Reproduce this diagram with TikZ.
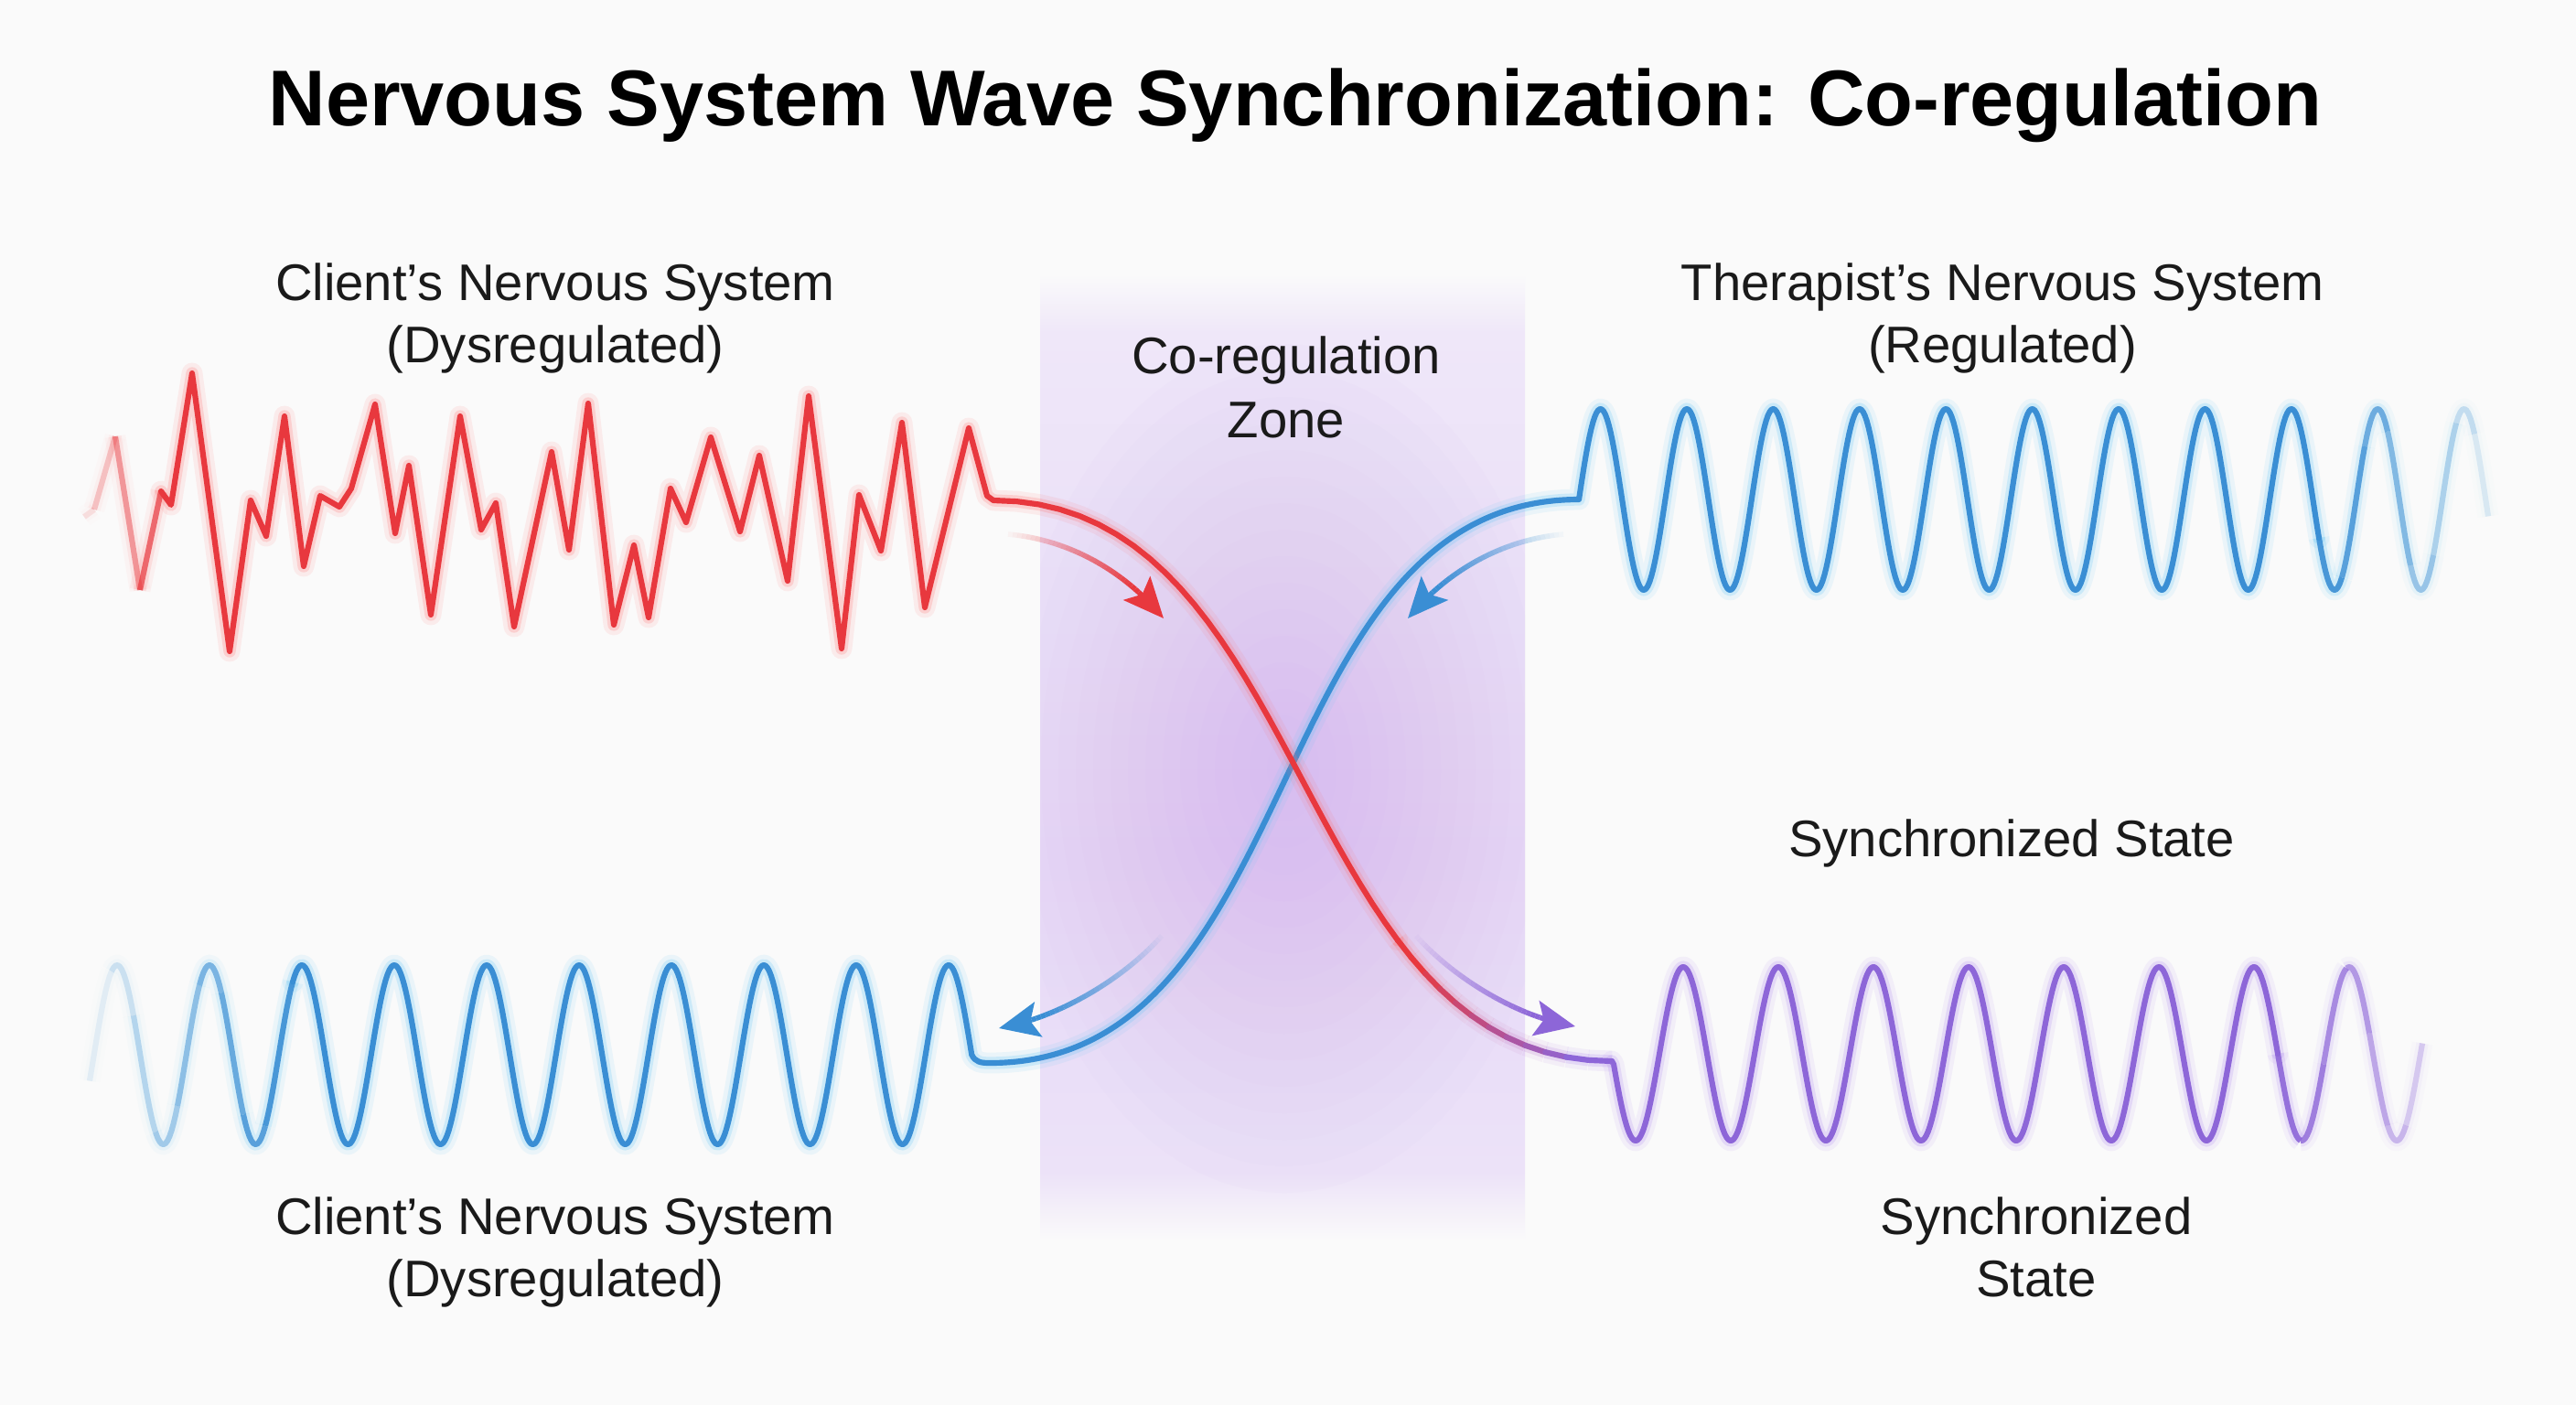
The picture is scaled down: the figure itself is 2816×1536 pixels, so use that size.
\documentclass[tikz,border=0pt]{standalone}
\usepackage{fontspec}
\setmainfont{Liberation Sans}
\usetikzlibrary{calc,arrows.meta}
\definecolor{bgc}{HTML}{FAFAFA}
\definecolor{textc}{HTML}{1A1A1A}
\definecolor{zonea}{HTML}{E6D8F7}
\definecolor{zoneb}{HTML}{ECE2F8}
\definecolor{zonec}{HTML}{EFE7F9}
\definecolor{zglow}{HTML}{C8A2F0}
\definecolor{sred}{HTML}{E8383E}
\definecolor{redglow}{HTML}{FF6E6E}
\definecolor{sblue}{HTML}{3A8ED4}
\definecolor{blueglow}{HTML}{5EC4F5}
\definecolor{spurple}{HTML}{8D66D8}
\definecolor{purpglow}{HTML}{B08BF0}
% TikZ maps the path onto 25bp..75bp of an axis shading
\pgfdeclareverticalshading{zoneshade}{100bp}{color(0bp)=(bgc); color(25bp)=(bgc); color(28.5bp)=(zoneb); color(45bp)=(zonea); color(62.5bp)=(zoneb); color(72bp)=(zonec); color(75bp)=(bgc); color(100bp)=(bgc)}

% points of a cubic Bezier curve by de Casteljau, 41 named coordinates
\newcommand\bezpts[5]{%
 \foreach \ii in {0,...,40}{%
  \pgfmathsetmacro\bz{\ii/40}%
  \coordinate (#1qa) at ($(#2)!\bz!(#3)$);
  \coordinate (#1qb) at ($(#3)!\bz!(#4)$);
  \coordinate (#1qc) at ($(#4)!\bz!(#5)$);
  \coordinate (#1ra) at ($(#1qa)!\bz!(#1qb)$);
  \coordinate (#1rb) at ($(#1qb)!\bz!(#1qc)$);
  \coordinate (#1\ii) at ($(#1ra)!\bz!(#1rb)$);
 }}

% faded pieces of a sine wave: #1 function, #2 colour, #3 glow colour, #4 list from/to/opacity
\newcommand\fadewave[4]{%
 \foreach \wa/\wb/\wo in {#4}{%
  \pgfmathsetmacro\oga{0.10*\wo}%
  \pgfmathsetmacro\ogb{0.22*\wo}%
  \pgfmathtruncatemacro\ns{max(4,(\wb-\wa)/2)}%
  \draw[glowA, draw=#3, opacity=\oga, line cap=butt] plot[domain=\wa:\wb, samples=\ns] (\x,{#1(\x)});
  \draw[glowB, draw=#3, opacity=\ogb, line cap=butt] plot[domain=\wa:\wb, samples=\ns] (\x,{#1(\x)});
  \draw[core, draw=#2, opacity=\wo, line cap=butt] plot[domain=\wa:\wb, samples=\ns] (\x,{#1(\x)});
 }}

% arrow with fading tail: #1 prefix of points, #2 colour
\newcommand\fadearrow[2]{%
 \foreach \ii in {0,...,36}{%
  \pgfmathtruncatemacro\jj{\ii+1}%
  \pgfmathsetmacro\op{min(1,0.04+1.15*\ii/36)}%
  \draw[arrline, draw=#2, opacity=\op] (#1\ii) -- (#1\jj);
 }
 \draw[arrline, draw=#2, fill=#2, -{Stealth[length=12.5pt,width=11pt,inset=2.5pt]}] (#136) -- (#140);
}

\newcommand\bluemain[1]{%
 \draw[#1] plot[domain=320:1062.25,samples=380] (\x,{cliw(\x)})
   .. controls (1066,1161) and (1072,1162) .. (1082,1162)
   .. controls (1432,1162) and (1376,546) .. (1726,546)
   -- plot[domain=1726:2535,samples=420] (\x,{regw(\x)});}

\newcommand\redmain[1]{%
 \draw[#1] (176,537) -- (187,552) -- (210,408) -- (251,712) -- (274,547) -- (291,586) -- (311,455)
   -- (332,619) -- (350,542) -- (371,554) -- (384,534) -- (410,442) -- (432,583) -- (447,509)
   -- (471,672) -- (503,455) -- (526,579) -- (542,550) -- (562,685) -- (603,494) -- (622,601)
   -- (643,441) -- (671,683) -- (693,596) -- (709,675) -- (733,534) -- (750,571) -- (777,478)
   -- (809,581) -- (830,498) -- (861,635) -- (884,433) -- (920,709) -- (939,541) -- (963,602)
   -- (986,462) -- (1011,664) -- (1059,468) -- (1079,542) -- (RS0)
   \foreach \ii in {1,...,28}{ -- (RS\ii)};}

\newcommand\purplemain[1]{%
 \draw[#1] (RS40) -- plot[domain=1764:2490,samples=360] (\x,{synw(\x)});}

\begin{document}
\begin{tikzpicture}[x=0.01cm,y=-0.01cm,
  declare function={
    regw(\x)=546-99*sin((\x-1726)/94.4*360);
    cliw(\x)=1153-98*sin((\x-102.75)/101*360);
    synw(\x)=1152+95*sin((\x-1762)/104*360);
  },
  lbl/.style={font=\fontsize{16}{19}\selectfont, text=textc, anchor=base, inner sep=0pt},
  titlestyle/.style={font=\fontsize{24.6}{29}\selectfont\bfseries, text=black, anchor=base, inner sep=0pt},
  glowA/.style={line width=6.5pt, opacity=0.10, line join=round, line cap=round},
  glowB/.style={line width=3.8pt, opacity=0.22, line join=round, line cap=round},
  core/.style={line width=1.75pt, line join=round, line cap=round},
  arrline/.style={line width=1.6pt, line cap=butt, line join=round}]

\fill[bgc] (0,0) rectangle (2816,1536);
\useasboundingbox (0,0) rectangle (2816,1536);

% ---- co-regulation zone
\begin{scope}
  \clip (1137,300) rectangle (1667,1355);
  \shade[shading=zoneshade] (1137,300) rectangle (1667,1355);
  \foreach \r in {1,...,16}{\fill[zglow, opacity=0.032] (1404,840) ellipse ({19*\r} and {29*\r});}
\end{scope}

% ---- curve points
\coordinate (rs0) at (1086,547);
\coordinate (rs1) at (1436,547);
\coordinate (rs2) at (1412,1160);
\coordinate (rs3) at (1762,1160);
\bezpts{RS}{rs0}{rs1}{rs2}{rs3}

\coordinate (a1p0) at (1102,584);
\coordinate (a1p1) at (1170,590);
\coordinate (a1p2) at (1230,625);
\coordinate (a1p3) at (1272,676);
\bezpts{AA}{a1p0}{a1p1}{a1p2}{a1p3}

\coordinate (a2p0) at (1709,584);
\coordinate (a2p1) at (1641,590);
\coordinate (a2p2) at (1581,625);
\coordinate (a2p3) at (1539,676);
\bezpts{AB}{a2p0}{a2p1}{a2p2}{a2p3}

\coordinate (a3p0) at (1270,1023);
\coordinate (a3p1) at (1230,1068);
\coordinate (a3p2) at (1160,1112);
\coordinate (a3p3) at (1092,1124);
\bezpts{AC}{a3p0}{a3p1}{a3p2}{a3p3}

\coordinate (a4p0) at (1548,1023);
\coordinate (a4p1) at (1588,1068);
\coordinate (a4p2) at (1658,1112);
\coordinate (a4p3) at (1722,1122);
\bezpts{AD}{a4p0}{a4p1}{a4p2}{a4p3}

% ---- blue waves (client bottom-left, S curve, therapist top-right)
\bluemain{glowA, draw=blueglow}
\bluemain{glowB, draw=blueglow}
\bluemain{core, draw=sblue}
\fadewave{cliw}{sblue}{blueglow}{98/122/0.1, 122/146/0.2, 146/170/0.3, 170/194/0.4, 194/218/0.5, 218/242/0.6, 242/266/0.7, 266/290/0.8, 290/320/0.9}
\fadewave{regw}{sblue}{blueglow}{2535/2560/0.9, 2560/2585/0.8, 2585/2610/0.68, 2610/2635/0.56, 2635/2660/0.45, 2660/2685/0.34, 2685/2705/0.24, 2705/2720/0.14}

% ---- purple synchronized wave
\purplemain{glowA, draw=purpglow}
\purplemain{glowB, draw=purpglow}
\purplemain{core, draw=spurple}
\fadewave{synw}{spurple}{purpglow}{2490/2515/0.9, 2515/2540/0.8, 2540/2565/0.7, 2565/2590/0.6, 2590/2610/0.5, 2610/2630/0.4, 2630/2648/0.28}

% ---- red dysregulated wave and S curve
\redmain{glowA, draw=redglow}
\redmain{glowB, draw=redglow}
\foreach \ii in {28,...,39}{%
  \pgfmathtruncatemacro\jj{\ii+1}%
  \pgfmathtruncatemacro\pc{max(0,min(100,(38-\ii)*100/9))}%
  \draw[glowA, draw=redglow!\pc!purpglow, line cap=butt] (RS\ii) -- (RS\jj);
  \draw[glowB, draw=redglow!\pc!purpglow, line cap=butt] (RS\ii) -- (RS\jj);
}
\foreach \xa/\ya/\xb/\yb/\op in {92/565/103/557/0.12, 103/557/126/477/0.25, 126/477/153/645/0.45, 153/645/176/537/0.7}{%
  \pgfmathsetmacro\oga{0.10*\op}\pgfmathsetmacro\ogb{0.22*\op}%
  \draw[glowA, draw=redglow, opacity=\oga, line cap=butt] (\xa,\ya) -- (\xb,\yb);
  \draw[glowB, draw=redglow, opacity=\ogb, line cap=butt] (\xa,\ya) -- (\xb,\yb);
  \draw[core, draw=sred, opacity=\op, line cap=butt] (\xa,\ya) -- (\xb,\yb);
}
\redmain{core, draw=sred}
\foreach \ii in {28,...,39}{%
  \pgfmathtruncatemacro\jj{\ii+1}%
  \pgfmathtruncatemacro\pc{max(0,min(100,(38-\ii)*100/9))}%
  \draw[core, draw=sred!\pc!spurple] (RS\ii) -- (RS\jj);
}

% ---- arrows
\fadearrow{AA}{sred}
\fadearrow{AB}{sblue}
\fadearrow{AC}{sblue}
\fadearrow{AD}{spurple}

% ---- texts
\node[titlestyle] (title) at (1416,137) {Nervous System Wave Synchronization: Co-regulation};
\node[lbl] (cl1) at (607,328) {Client’s Nervous System};
\node[lbl] (cl2) at (607,396) {(Dysregulated)};
\node[lbl] (th1) at (2189,328) {Therapist’s Nervous System};
\node[lbl] (th2) at (2189,396) {(Regulated)};
\node[lbl] (zn1) at (1406,408) {Co-regulation};
\node[lbl] (zn2) at (1406,478) {Zone};
\node[lbl] (ss) at (2199,936) {Synchronized State};
\node[lbl] (cb1) at (607,1349) {Client’s Nervous System};
\node[lbl] (cb2) at (607,1417) {(Dysregulated)};
\node[lbl] (sb1) at (2226,1349) {Synchronized};
\node[lbl] (sb2) at (2226,1417) {State};
\end{tikzpicture}
\end{document}
